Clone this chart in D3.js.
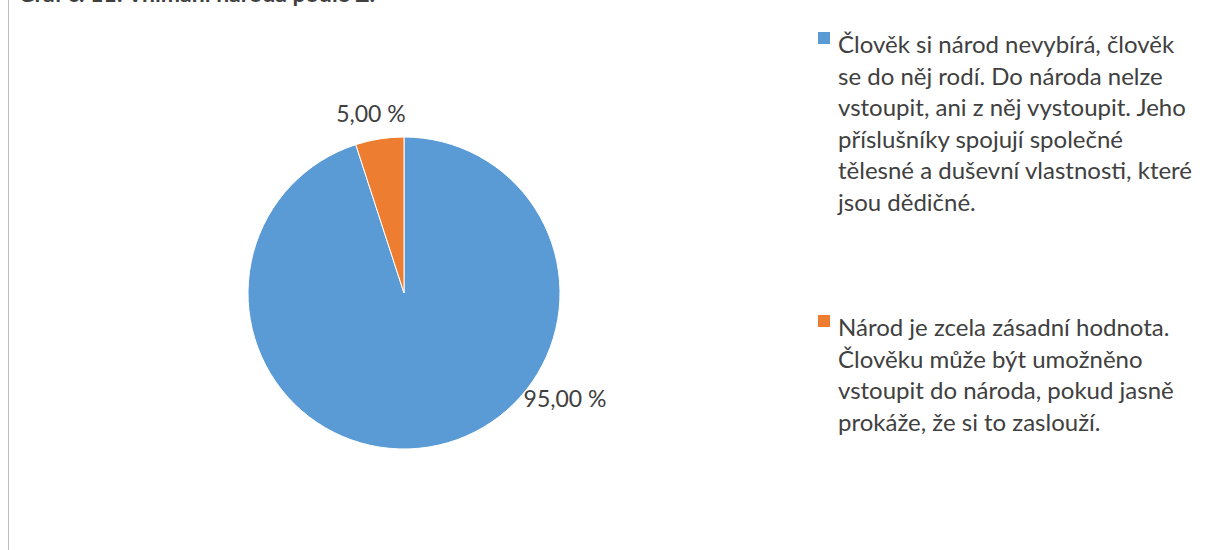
<!DOCTYPE html>
<html>
<head>
<meta charset="utf-8">
<script src="https://cdn.jsdelivr.net/npm/d3@7"></script>
<style>
  body { margin: 0; background: #fff; }
  text { font-family: Lato, "Open Sans", sans-serif; }
</style>
</head>
<body>
<div class="chart"></div>
<script>
// data
var categories = [
  "Člověk si národ nevybírá, člověk se do něj rodí. Do národa nelze vstoupit, ani z něj vystoupit. Jeho příslušníky spojují společné tělesné a duševní vlastnosti, které jsou dědičné.",
  "Národ je zcela zásadní hodnota. Člověku může být umožněno vstoupit do národa, pokud jasně prokáže, že si to zaslouží."
];
var values = [95, 5];
var valueLabels = ["95,00 %", "5,00 %"];
var legendLines = [
  ["Člověk si národ nevybírá, člověk", "se do něj rodí. Do národa nelze", "vstoupit, ani z něj vystoupit. Jeho", "příslušníky spojují společné", "tělesné a duševní vlastnosti, které", "jsou dědičné."],
  ["Národ je zcela zásadní hodnota.", "Člověku může být umožněno", "vstoupit do národa, pokud jasně", "prokáže, že si to zaslouží."]
];
var titleText = "Graf č. 11: Vnímání národa podle Ž.";

var svgWidth = 1206;
var svgHeight = 550;

var svg = d3.select(".chart")
  .append("svg")
  .attr("width", svgWidth)
  .attr("height", svgHeight);

// left frame line
svg.append("line")
  .attr("x1", 8.5).attr("x2", 8.5)
  .attr("y1", 0).attr("y2", svgHeight)
  .attr("stroke", "#bfbfbf")
  .attr("stroke-width", 1);

// title (cut off at the top)
svg.append("text")
  .attr("x", 18)
  .attr("y", 2)
  .attr("font-size", 23)
  .attr("font-weight", "bold")
  .attr("fill", "#404040")
  .text(titleText);

var cx = 404, cy = 293, radius = 156;

var color = d3.scaleOrdinal()
  .domain(categories)
  .range(["#5b9bd5", "#ed7d31"]);

var pie = d3.pie().sort(null).value(d => d);
var arcs = pie(values);

var arc = d3.arc().innerRadius(0).outerRadius(radius);

var pieGroup = svg.append("g")
  .attr("transform", `translate(${cx}, ${cy})`);

pieGroup.selectAll("path")
  .data(arcs)
  .enter()
  .append("path")
  .attr("d", arc)
  .attr("fill", (d, i) => color(categories[i]))
  .attr("stroke", "#fff")
  .attr("stroke-width", 1);

// data labels ("best fit" placement)
var labelPos = [
  { angle: 123, dist: 192 },
  { angle: -10.4, dist: 183 }
];

pieGroup.selectAll(".lbl")
  .data(arcs)
  .enter()
  .append("text")
  .attr("class", "lbl")
  .attr("x", (d, i) => Math.sin(labelPos[i].angle * Math.PI / 180) * labelPos[i].dist)
  .attr("y", (d, i) => -Math.cos(labelPos[i].angle * Math.PI / 180) * labelPos[i].dist)
  .attr("text-anchor", "middle")
  .attr("dominant-baseline", "central")
  .attr("font-size", 23)
  .attr("fill", "#404040")
  .text((d, i) => valueLabels[i]);

// legend
var legendTop = [53, 336];
var lineH = 31.5;

var legend = svg.append("g");

categories.forEach(function(c, i) {
  legend.append("rect")
    .attr("x", 818)
    .attr("y", legendTop[i] - 21)
    .attr("width", 12)
    .attr("height", 12)
    .attr("fill", color(c));

  legend.append("text")
    .attr("x", 838)
    .attr("y", legendTop[i])
    .attr("font-size", 24)
    .attr("fill", "#404040")
    .selectAll("tspan")
    .data(legendLines[i])
    .enter()
    .append("tspan")
    .attr("x", 838)
    .attr("dy", (d, j) => j === 0 ? 0 : lineH)
    .text(d => d);
});
</script>
</body>
</html>
